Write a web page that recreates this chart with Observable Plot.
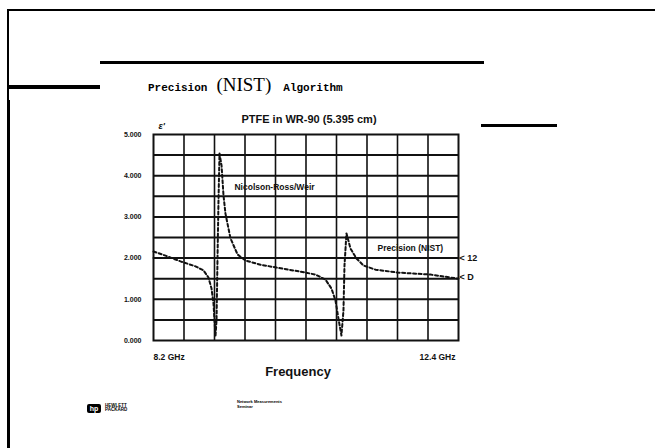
<!DOCTYPE html>
<html><head><meta charset="utf-8">
<script src="https://cdn.jsdelivr.net/npm/d3@7"></script>
<script src="https://cdn.jsdelivr.net/npm/@observablehq/plot@0.6"></script>
<style>
html,body{margin:0;padding:0;background:#fff;}
#slide{position:relative;width:655px;height:448px;overflow:hidden;background:#fff;}
#chart{position:absolute;left:0;top:0;}
.deco{position:absolute;background:#000;}
.t{position:absolute;white-space:nowrap;color:#000;line-height:1;}
</style></head><body>
<div id="slide">
  <div class="deco" style="left:7px;top:9px;width:648px;height:2px"></div>
  <div class="deco" style="left:7px;top:9px;width:2px;height:92px"></div>
  <div class="deco" style="left:7px;top:100px;width:3px;height:348px"></div>
  <div class="deco" style="left:100px;top:61px;width:384px;height:3px"></div>
  <div class="deco" style="left:8px;top:85px;width:92px;height:4px"></div>
  <div class="deco" style="left:481px;top:124px;width:76px;height:3px"></div>
  <div class="t" style="left:148px;top:75px;font-weight:bold;"><span style="font-family:'Liberation Mono',monospace;font-size:11px;">Precision</span><span style="font-family:'Liberation Serif',serif;font-size:19px;font-weight:normal;margin-left:9px;">(NIST)</span><span style="font-family:'Liberation Mono',monospace;font-size:11px;margin-left:12px;">Algorithm</span></div>
  <div class="t" style="left:87px;top:399px;">
    <span style="display:inline-block;width:14px;height:9px;background:#000;border-radius:2px;color:#fff;font:bold 7px 'Liberation Sans',sans-serif;text-align:center;line-height:9px;vertical-align:middle;">hp</span>
    <span style="display:inline-block;font:bold 4.5px 'Liberation Sans',sans-serif;vertical-align:middle;line-height:4.5px;">HEWLETT<br>PACKARD</span>
  </div>
  <div class="t" style="left:237px;top:399px;font:bold 4px 'Liberation Sans',sans-serif;line-height:5px;">Network Measurements<br>Seminar</div>
  <div id="chart"></div>
</div>
<script>
// NRW (Nicolson-Ross/Weir) permittivity trace
const freqNRW = [8.200, 8.365, 8.572, 8.778, 8.889, 8.957, 8.999, 9.026, 9.040, 9.054, 9.068, 9.081, 9.095, 9.109, 9.137, 9.164, 9.191, 9.260, 9.357, 9.467, 9.673, 9.894, 10.224, 10.431, 10.568, 10.651, 10.706, 10.747, 10.788, 10.816, 10.830, 10.857, 10.913, 10.995, 11.092, 11.257, 11.560, 12.014, 12.400];
const epsNRW  = [2.16, 2.06, 1.92, 1.80, 1.70, 1.53, 1.26, 0.90, 0.49, 0.12, 0.49, 1.94, 3.40, 4.54, 4.25, 3.52, 3.08, 2.48, 2.09, 1.94, 1.84, 1.77, 1.67, 1.60, 1.48, 1.26, 0.97, 0.53, 0.12, 0.73, 1.82, 2.60, 2.23, 1.99, 1.82, 1.72, 1.65, 1.60, 1.50];
// Precision (NIST) trace
const freqPrecision = [8.2, 12.4];
const epsPrecision = [2.0, 2.0];

const yTicks = [0, 1, 2, 3, 4, 5];
const yGrid = [0.5, 1, 1.5, 2, 2.5, 3, 3.5, 4, 4.5];
const xGrid = [8.62, 9.04, 9.46, 9.88, 10.30, 10.72, 11.14, 11.56, 11.98];
const xTickValues = [8.2, 12.4];
const xTickLabels = ["8.2 GHz", "12.4 GHz"];

const chartTitle = "PTFE in WR-90 (5.395 cm)";
const xLabel = "Frequency";
const yLabel = "ε'";

const annLabels = ["Nicolson-Ross/Weir", "Precision (NIST)"];
const annFreq = [9.315, 11.285];
const annEps = [3.71, 2.23];

const endLabels = ["< 12", "< D"];
const endFreq = [12.4, 12.4];
const endEps = [2.0, 1.53];

const nrw = freqNRW.map((f, i) => ({f, e: epsNRW[i]}));
const prec = freqPrecision.map((f, i) => ({f, e: epsPrecision[i]}));
const ann = annLabels.map((label, i) => ({label, f: annFreq[i], e: annEps[i]}));
const ends = endLabels.map((label, i) => ({label, f: endFreq[i], e: endEps[i]}));

const ink = "#111";
const bold = {fontWeight: "bold"};

const plot = Plot.plot({
  width: 655, height: 448,
  marginLeft: 153, marginRight: 197, marginTop: 134, marginBottom: 108,
  x: {domain: [8.2, 12.4]},
  y: {domain: [0, 5]},
  style: {fontFamily: "'Liberation Sans', Arial, sans-serif", background: "transparent", color: ink},
  marks: [
    Plot.gridX(xGrid, {stroke: ink, strokeOpacity: 1, strokeWidth: 1.6}),
    Plot.gridY(yGrid, {stroke: ink, strokeOpacity: 1, strokeWidth: 2}),
    Plot.line(prec, {x: "f", y: "e", stroke: ink, strokeWidth: 2}),
    Plot.line(nrw, {x: "f", y: "e", stroke: ink, strokeWidth: 2, strokeDasharray: "3,2.5"}),
    Plot.frame({stroke: ink, strokeWidth: 2}),
    Plot.axisY(yTicks, {tickSize: 0, tickPadding: 12, tickFormat: d3.format(".3f"), fontSize: 7, ...bold, label: null}),
    Plot.axisX([xTickValues[0]], {tickSize: 0, tickPadding: 13, tickFormat: () => xTickLabels[0], textAnchor: "start", fontSize: 8.5, ...bold, label: null}),
    Plot.axisX([xTickValues[1]], {tickSize: 0, tickPadding: 13, tickFormat: () => xTickLabels[1], textAnchor: "end", dx: -3, fontSize: 8.5, ...bold, label: null}),
    Plot.text(ann, {x: "f", y: "e", text: "label", textAnchor: "start", fontSize: 8.5, ...bold}),
    Plot.text(ends, {x: "f", y: "e", text: "label", textAnchor: "start", dx: 1, fontSize: 9, ...bold}),
    Plot.text([chartTitle], {frameAnchor: "top", dy: -19, dx: 3, fontSize: 11, ...bold}),
    Plot.text([xLabel], {frameAnchor: "bottom", dy: 35, dx: -8, fontSize: 13, ...bold}),
    Plot.text([yLabel], {frameAnchor: "top-left", dx: 5, dy: -12, fontSize: 9, fontStyle: "italic", ...bold})
  ]
});
document.getElementById("chart").appendChild(plot);
</script>
</body></html>
